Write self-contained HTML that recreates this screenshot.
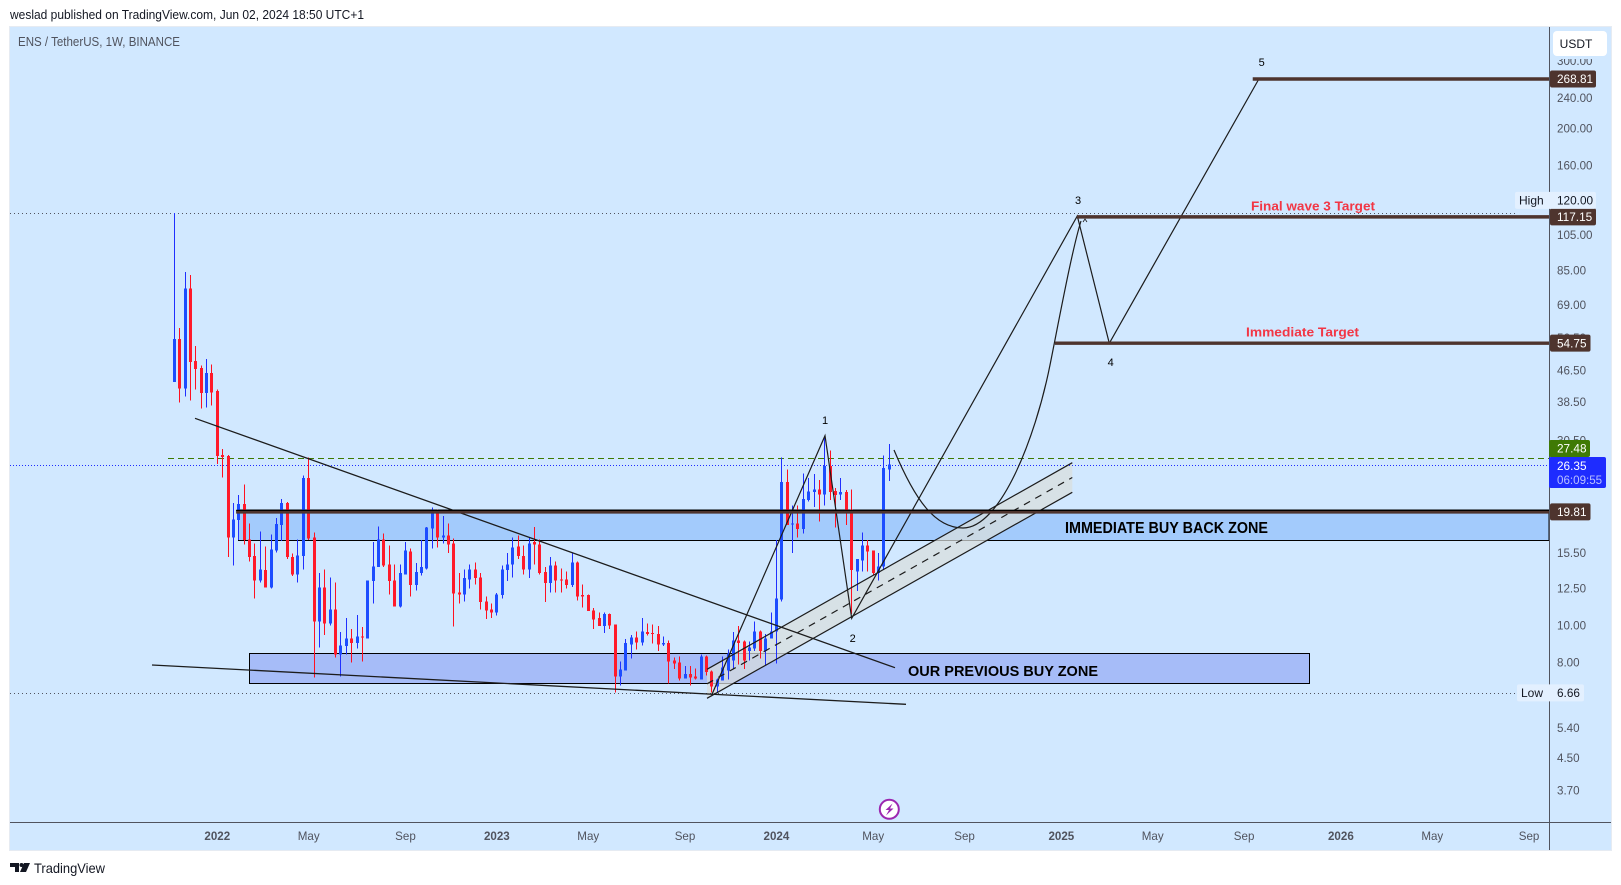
<!DOCTYPE html>
<html lang="en">
<head>
<meta charset="utf-8">
<title>ENS / TetherUS, 1W chart</title>
<style>
html,body{margin:0;padding:0;background:#fff;width:1621px;height:885px;overflow:hidden}
svg{display:block;font-family:"Liberation Sans",Arial,sans-serif}
</style>
</head>
<body>
<svg id="chart" xmlns="http://www.w3.org/2000/svg" width="1621" height="885" viewBox="0 0 1621 885">
  <rect x="0" y="0" width="1621" height="885" fill="#ffffff"/>
  <text x="10" y="19" font-size="13" fill="#131722" textLength="354" lengthAdjust="spacingAndGlyphs">weslad published on TradingView.com, Jun 02, 2024 18:50 UTC+1</text>
  <rect x="9.5" y="26.5" width="1602" height="824" fill="#d1e8ff" stroke="#e6ebf2" stroke-width="1"/>
  <text x="18" y="46" font-size="12.5" fill="#50535e" textLength="162" lengthAdjust="spacingAndGlyphs">ENS / TetherUS, 1W, BINANCE</text>

  <g id="zones">
    <path d="M238.5 510V540.5H1549V510Z" fill="#a3cbfc" stroke="#000" stroke-width="1"/>
    <rect x="249.5" y="653.5" width="1060" height="30" fill="#a6bcf8" stroke="#000" stroke-width="1"/>
    <polygon points="707,669.3 1072.3,462.7 1072.3,492.3 707,698.3" fill="#d9dedc" fill-opacity="0.72" stroke="none"/>
  </g>
  <g id="levels"></g>
  <g id="candles" shape-rendering="crispEdges"></g>

  <g id="drawings" fill="none" stroke="#1c1c1c" stroke-width="1.2">
    <line x1="707" y1="669.3" x2="1072.3" y2="462.7"/>
    <line x1="707" y1="698.3" x2="1072.3" y2="492.3"/>
    <line x1="707" y1="683.8" x2="1072.3" y2="477.5" stroke-dasharray="7 6"/>
    <line x1="195" y1="418.3" x2="895" y2="667.7" stroke-width="1.3"/>
    <line x1="152" y1="665" x2="906" y2="704.3" stroke-width="1.3"/>
    <polyline points="711.7,695 825,435.7 851.7,618.3 1077.3,216 1109.3,343.3 1258.3,80"/>
    <path d="M894 450C915 500 935 528 963 528C1000 528 1035 440 1050 365C1060 315 1072 250 1081 221"/>
    <path d="M1083 222L1085 219L1087 222" stroke-width="0.8"/>
  </g>

  <g id="annotations">
    <text x="1065" y="533" font-size="15.5" font-weight="700" fill="#000" textLength="203" lengthAdjust="spacingAndGlyphs">IMMEDIATE BUY BACK ZONE</text>
    <text x="908" y="676" font-size="15" font-weight="700" fill="#000" textLength="190" lengthAdjust="spacingAndGlyphs">OUR PREVIOUS BUY ZONE</text>
    <text x="1251" y="210.5" font-size="13" font-weight="700" fill="#f23645" textLength="124" lengthAdjust="spacingAndGlyphs">Final wave 3 Target</text>
    <text x="1246" y="336.5" font-size="13" font-weight="700" fill="#f23645" textLength="113" lengthAdjust="spacingAndGlyphs">Immediate Target</text>
    <text x="825" y="424" font-size="11" text-anchor="middle" fill="#000">1</text>
    <text x="852.7" y="642" font-size="11" text-anchor="middle" fill="#000">2</text>
    <text x="1078" y="204" font-size="11" text-anchor="middle" fill="#000">3</text>
    <text x="1110.7" y="366" font-size="11" text-anchor="middle" fill="#000">4</text>
    <text x="1261.7" y="66" font-size="11" text-anchor="middle" fill="#000">5</text>
  </g>

  <g>
    <circle cx="889.3" cy="809.3" r="9.5" fill="#ffffff" stroke="#9c27b0" stroke-width="2"/>
    <path d="M892.5 803.5L885.5 810H889L886 815.5L893.5 808.5H890Z" fill="#9c27b0"/>
  </g>

  <line x1="1549.5" y1="27" x2="1549.5" y2="850" stroke="#50535e" stroke-width="1"/>
  <line x1="10" y1="822.5" x2="1611" y2="822.5" stroke="#50535e" stroke-width="1"/>
  <g id="priceTicks"></g>
  <g id="timeTicks"></g>

  <rect x="1551" y="28" width="59" height="31" fill="#d1e8ff"/>
  <g>
    <rect x="1553" y="31" width="54" height="25" rx="4" fill="#ffffff"/>
    <text x="1576" y="48" font-size="12" text-anchor="middle" fill="#131722">USDT</text>
  </g>
  <g id="chips"></g>

  <g>
    <path d="M10 863H19V872H15V867H10ZM24 863H30L26 872H20Z" fill="#131722"/>
    <circle cx="21.5" cy="865" r="2" fill="#131722"/>
    <text x="34" y="873" font-size="14" fill="#131722" textLength="71" lengthAdjust="spacingAndGlyphs">TradingView</text>
  </g>
</svg>
<script>
const opens = [43.3,56.1,41.7,76.2,49.1,47.1,40.5,45.7,41,27.9,
27.7,17,18.84,20.75,16.8,15.2,13.12,13.94,12.57,15.72,
18.3,20.9,15.1,13.6,15.2,24.3,17,10.25,12.57,10.1,
11,8.4,8.82,9.25,8.98,9.36,9.25,13.05,14.2,16.8,
14.45,13.12,11.2,13.6,15.6,12.75,13.7,14.1,17.95,19.75,
17,17.2,16.4,12.2,12.05,13.2,14,13.35,11.55,11,
10.8,12,13.94,14.45,16.1,15.2,14,16.5,16.3,13.8,
12.9,14.35,13.2,13.2,12.75,14.6,12,12,10.95,10.45,
9.95,10.7,10.05,7.36,7.63,8.92,9.3,9.03,9.6,9.55,
9.5,8.92,8.98,8.1,8,7.27,7.45,7.36,7.22,8.3,
7.58,6.93,7.18,7.63,8.1,9.14,9.08,8.56,8.7,9.65,
8.56,9.25,9.65,11.7,23.7,18.4,18.5,17.85,21.25,22.3,
22.7,22,26.1,22.45,22,22.3,20.1,13.85,14.8,16.2,
15.72,13.7,14.25,25.6];
const closes = [56.1,41.7,76.2,48.8,46.8,40.5,45.7,40.7,27.7,27.55,
17,18.95,20.75,16.7,15.1,13.12,14,12.57,15.8,18.4,
20.9,15.1,13.6,15.25,24.3,16.9,10.25,12.57,10.1,11,
8.4,8.87,9.25,8.98,9.36,9.3,13.12,14.27,16.8,14.35,
13.05,11.2,13.7,15.72,12.75,13.8,14.2,18.05,19.75,17,
17.2,16.3,12.13,12.05,13.3,14,13.3,11.5,10.95,10.8,
12.05,14,14.45,16,15.2,14,16.4,16.3,13.7,12.9,
14.35,13.12,13.12,12.75,14.6,11.9,11.9,10.9,10.35,9.95,
10.7,10,7.36,7.67,8.98,9.3,9.03,9.65,9.5,9.5,
8.92,8.98,8.05,7.95,7.27,7.45,7.31,7.27,8.3,7.54,
6.93,7.22,7.77,8.45,9.14,8.98,8.1,8.75,9.65,8.56,
9.25,9.65,11.77,23.7,18.3,18.5,17.85,21.4,22.4,22.7,
22,26.1,22.3,21.9,22.3,19.9,13.94,14.9,16.2,15.6,
13.7,14.25,25.8,26.35];
const highs = [120,59.9,84,82.5,53.8,47.9,49.7,48.2,41.4,28.9,
27.9,20.9,21.9,23.4,18.5,16.4,17.6,16.1,17.3,19.1,
21.4,21,15.4,16.8,24.7,27.5,17.5,13.7,14,13.35,
12.95,9.6,10.45,9.77,10.65,9.9,13.12,16.5,18.15,17.4,
16.2,14.45,14.45,16.5,15.9,14.55,16.7,18.1,20.35,20.1,
19.3,18.5,16.9,13.7,14,14.45,14.6,13.7,11.9,11.4,
12.15,14.35,15.45,17,17.2,16.2,17,18.1,16.8,14.2,
15.1,14.7,14.1,13.85,15.45,14.7,12.8,12.05,11.1,10.8,
10.8,10.75,10.05,8.05,9.2,9.45,9.65,10.45,10.1,10.05,
9.95,9.36,9.14,8.25,8.3,7.83,7.83,7.72,8.4,8.35,
7.63,7.27,8.3,8.66,9.6,9.95,9.14,9.08,10.25,9.71,
9.5,10.8,16.7,27.5,25.6,20.6,20.6,25,24.3,24.9,
23.98,31.2,28.7,22.85,24.3,22.57,22.7,14.9,17.5,16.7,
15.72,15.45,27.8,29.8];
const lows = [43.3,38.3,39.7,38.8,41.4,36.9,37.2,37.6,26.4,24.4,
15.1,14.36,16.7,16.3,14.7,11.77,12.96,12.57,12.5,15.5,
16.6,14.9,13.45,12.95,14,16.7,7.3,8.75,9.45,10,
8.25,7.36,8.4,8,8.7,8.05,9.25,11.4,14.2,14.2,
12.05,11.2,11.15,13.6,11.9,12.35,13.5,14,15.9,16,
16.4,15.45,9.94,11.4,11.55,12.5,12.8,11,10.4,10.45,
10.6,11.75,13.05,13.35,14.9,13.6,13.3,14.45,13.6,11.5,
12.2,12.2,12.2,12.5,12.6,11.63,11.15,10.9,9.77,9.95,
9.55,9.77,6.68,6.97,7.63,8.2,8.66,8.87,9.42,8.97,
8.56,8.82,7.05,7.68,7.18,7.27,6.97,7.22,7.22,7.4,
6.68,6.66,7.18,7.22,7.68,7.9,7.68,8.1,8.56,8.2,
7.87,9.25,7.95,11.55,18.3,15.45,17,17.4,21.1,20.4,
18.7,20.6,21.25,18.05,21.25,18.3,10.7,12.3,13.85,13.85,
13.5,13.12,14,23.85];

const priceTickLabels = ["300.00","240.00","200.00","160.00","105.00","85.00","69.00","56.50","46.50","38.50","30.50","15.50","12.50","10.00","8.00","5.40","4.50","3.70"];
const timeTickLabels = ["2022","May","Sep","2023","May","Sep","2024","May","Sep","2025","May","Sep","2026","May","Sep"];
const timeTickWeeks = [8,25,43,60,77,95,112,130,147,165,182,199,217,234,252];
const targetLevels = [268.81,117.15,54.75,19.81];
const targetStartWeeks = [200.6,167.9,163.8,11.5];
const allTimeHigh = 120.00;
const allTimeLow = 6.66;
const previousClose = 27.48;
const lastPrice = 26.35;

const SVGNS = "http://www.w3.org/2000/svg";
const LOG_TOP_PRICE = 268.81, LOG_TOP_Y = 79, LOG_SCALE = 166;
const BAR_X0 = 174.3, BAR_STEP = 5.376;
function yOf(p){ return LOG_TOP_Y + LOG_SCALE * Math.log(LOG_TOP_PRICE / p); }
function xOf(i){ return BAR_X0 + BAR_STEP * i; }
function snap(v){ return Math.round(v) + 0.5; }
function make(tag, parent, attrs){
  const el = document.createElementNS(SVGNS, tag);
  for (const k in attrs) el.setAttribute(k, attrs[k]);
  parent.appendChild(el);
  return el;
}

const candlesG = document.getElementById("candles");
opens.forEach(function(o, i){
  const c = closes[i];
  const up = c >= o;
  const cx = Math.floor(xOf(i));
  const top = yOf(Math.max(o, c));
  const bot = yOf(Math.min(o, c));
  const wick = make("rect", candlesG, {x: cx, y: yOf(highs[i]), width: 1, height: Math.max(1, yOf(lows[i]) - yOf(highs[i])), fill: up ? "#1f2fff" : "#ff1020"});
  
  
  const body = make("rect", candlesG, {x: cx - 1, y: top, width: 3, height: Math.max(1.2, bot - top), fill: up ? "#1c4dff" : "#ff1a2a"});
  
  
});

const levelsG = document.getElementById("levels");
const highLine = make("line", levelsG, {x1: 10, x2: 1515, y1: snap(yOf(allTimeHigh)), y2: snap(yOf(allTimeHigh)), stroke: "#50535e", "stroke-width": 1, "stroke-dasharray": "1 3"});


const lowLine = make("line", levelsG, {x1: 10, x2: 1517, y1: snap(yOf(allTimeLow)), y2: snap(yOf(allTimeLow)), stroke: "#50535e", "stroke-width": 1, "stroke-dasharray": "1 3"});


const prevLine = make("line", levelsG, {x1: 168, x2: 1549, y1: snap(yOf(previousClose)), y2: snap(yOf(previousClose)), stroke: "#3c7a00", "stroke-width": 1, "stroke-dasharray": "6 4"});


const lastLine = make("line", levelsG, {x1: 10, x2: 1549, y1: snap(yOf(lastPrice)), y2: snap(yOf(lastPrice)), stroke: "#1e2cff", "stroke-width": 1, "stroke-dasharray": "1 2"});



const drawingsG = document.getElementById("drawings");
targetLevels.forEach(function(p, i){
  const line = make("line", drawingsG, {x1: xOf(targetStartWeeks[i]), x2: 1549, y1: yOf(p), y2: yOf(p), stroke: "#4e342e", "stroke-width": 3.4, "stroke-linecap": "butt"});
  
  
});
const buyBackEdge = make("line", drawingsG, {x1: xOf(targetStartWeeks[3]), x2: 1549, y1: yOf(targetLevels[3]) - 1.5, y2: yOf(targetLevels[3]) - 1.5, stroke: "#000", "stroke-width": 1.2});



const priceG = document.getElementById("priceTicks");
priceTickLabels.forEach(function(label){
  const t = make("text", priceG, {x: 1557, y: yOf(parseFloat(label)) + 4.2, "font-size": 11.6, fill: "#50535e"});
  t.textContent = label;
  
  
});

const timeG = document.getElementById("timeTicks");
timeTickLabels.forEach(function(label, i){
  const isYear = /^\d+$/.test(label);
  const t = make("text", timeG, {x: xOf(timeTickWeeks[i]), y: 840, "font-size": 11.6, "text-anchor": "middle", "font-weight": isYear ? 700 : 400, fill: "#50535e"});
  t.textContent = label;
  
  
});

const chipsG = document.getElementById("chips");
targetLevels.forEach(function(p){
  const y = yOf(p);
  const label = p.toFixed(2);
  const w = label.length > 5 ? 46 : 40.5;
  const box = make("rect", chipsG, {x: 1550, y: y - 8.5, width: w, height: 17, rx: 2, fill: "#4e342e"});
  
  
  const t = make("text", chipsG, {x: 1557, y: y + 4.2, "font-size": 11.8, fill: "#ffffff"});
  t.textContent = label;
  
  
});

const prevChip = make("rect", chipsG, {x: 1549, y: yOf(previousClose) - 17.6, width: 41, height: 17, rx: 2, fill: "#3f7a05"});


const prevText = make("text", chipsG, {x: 1557, y: yOf(previousClose) - 4.9, "font-size": 11.8, fill: "#ffffff"});
prevText.textContent = previousClose.toFixed(2);



const lastChip = make("rect", chipsG, {x: 1549, y: yOf(lastPrice) - 7.6, width: 57, height: 31, rx: 2, fill: "#1e2cff"});


const lastText = make("text", chipsG, {x: 1557, y: yOf(lastPrice) + 5.4, "font-size": 11.8, fill: "#ffffff"});
lastText.textContent = lastPrice.toFixed(2);


const countdownText = make("text", chipsG, {x: 1557, y: yOf(lastPrice) + 19.4, "font-size": 11.6, fill: "#b9c0ff"});
countdownText.textContent = "06:09:55";



const highChip = make("rect", chipsG, {x: 1515, y: yOf(allTimeHigh) - 21, width: 81, height: 17, rx: 2, fill: "#e3f0ff"});


const highName = make("text", chipsG, {x: 1519, y: yOf(allTimeHigh) - 8.3, "font-size": 12, fill: "#131722"});
highName.textContent = "High";


const highValue = make("text", chipsG, {x: 1557, y: yOf(allTimeHigh) - 8.3, "font-size": 11.8, fill: "#131722"});
highValue.textContent = allTimeHigh.toFixed(2);



const lowChip = make("rect", chipsG, {x: 1517, y: yOf(allTimeLow) - 8.5, width: 67, height: 17, rx: 2, fill: "#e3f0ff"});


const lowName = make("text", chipsG, {x: 1521, y: yOf(allTimeLow) + 4.2, "font-size": 12, fill: "#131722"});
lowName.textContent = "Low";


const lowValue = make("text", chipsG, {x: 1557, y: yOf(allTimeLow) + 4.2, "font-size": 11.8, fill: "#131722"});
lowValue.textContent = allTimeLow.toFixed(2);


</script>
</body>
</html>
